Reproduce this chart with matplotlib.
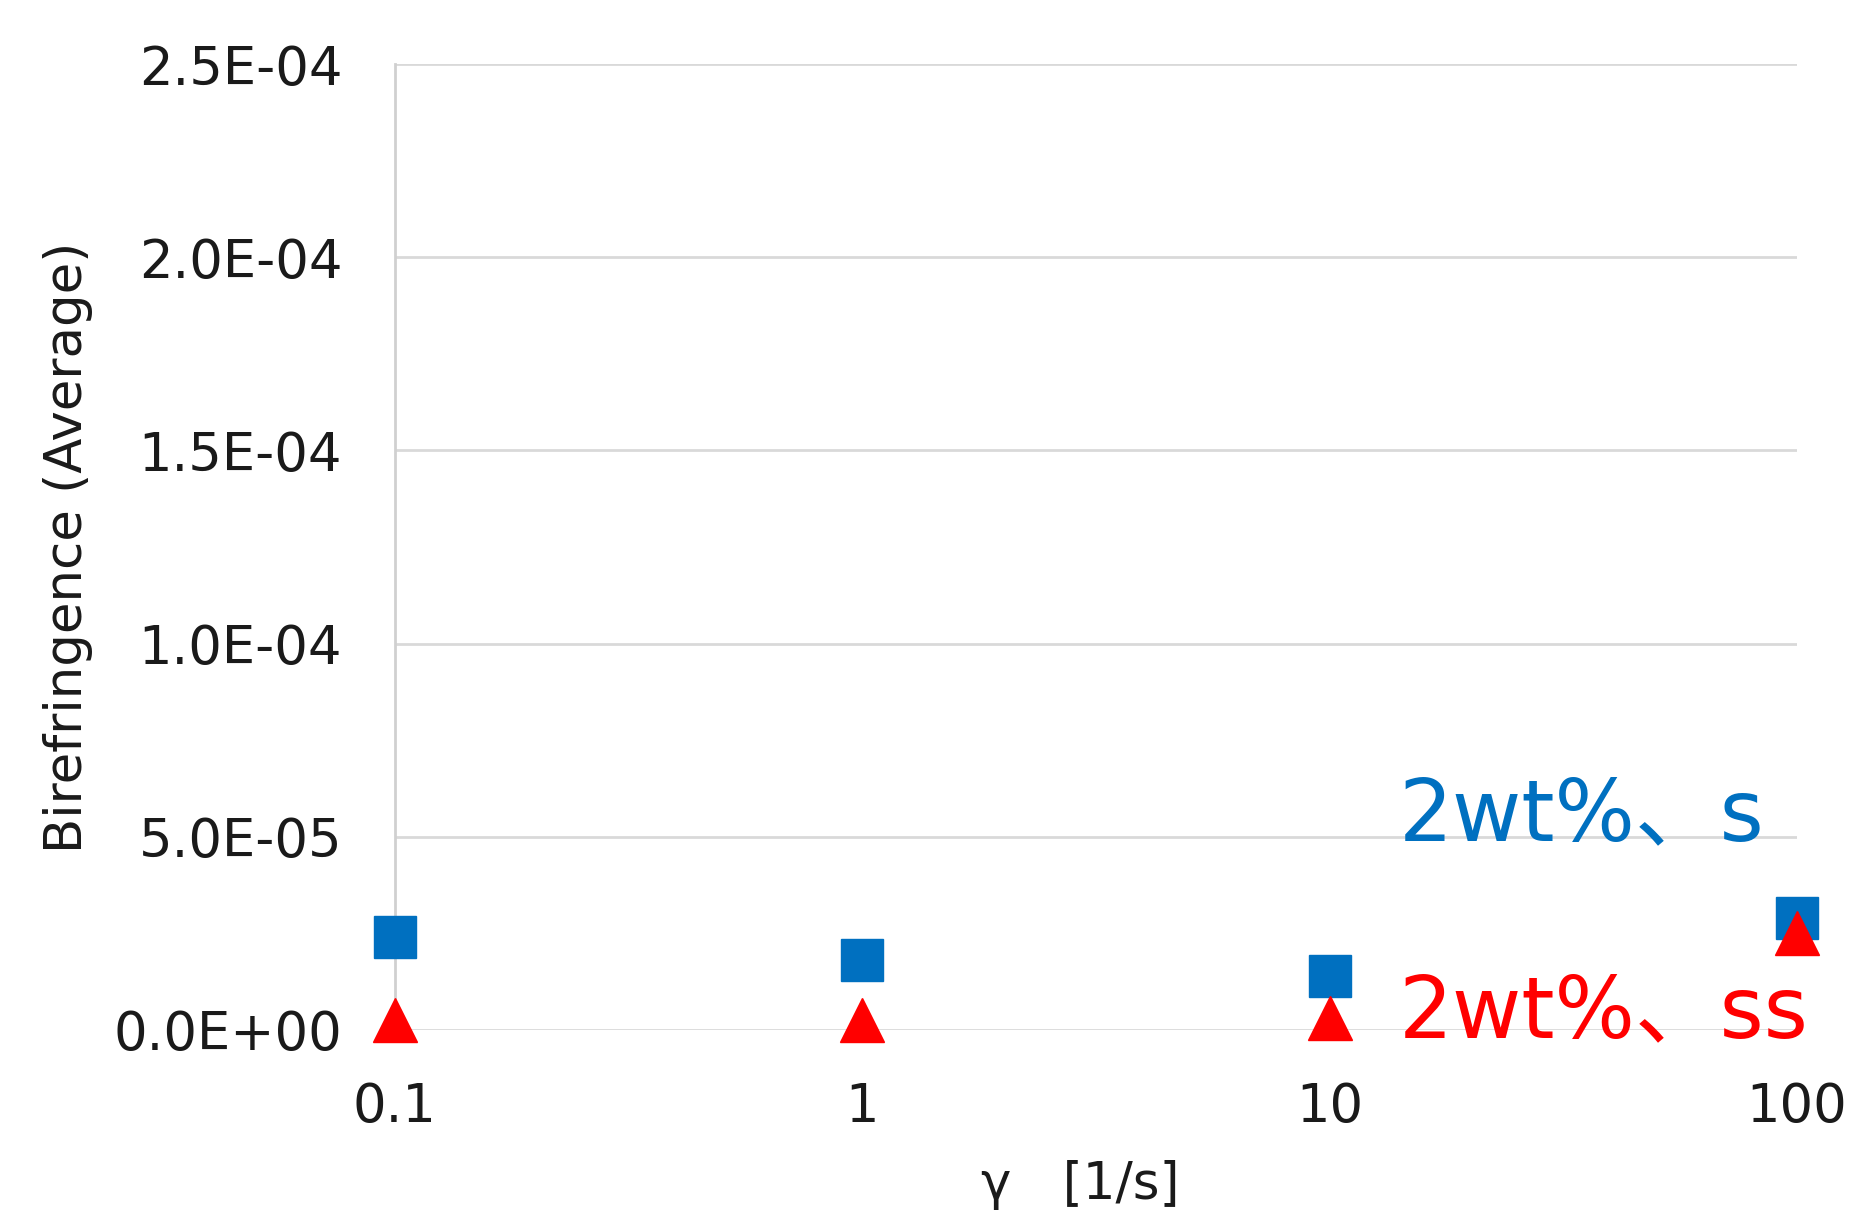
import matplotlib
matplotlib.use("Agg")
import matplotlib.pyplot as plt
from matplotlib.ticker import FixedLocator, NullLocator

plt.rcParams['font.family'] = ['DejaVu Sans', 'Noto Sans CJK JP']

shear_rates = [0.1, 1, 10, 100]
series_s = [2.4e-5, 1.8e-5, 1.4e-5, 2.9e-5]
series_ss = [2.6e-6, 2.6e-6, 3.0e-6, 2.5e-5]
label_s = "2wt%、s"
label_ss = "2wt%、ss"
y_ticks = [0, 5e-5, 1e-4, 1.5e-4, 2e-4, 2.5e-4]
y_tick_labels = ["0.0E+00", "5.0E-05", "1.0E-04", "1.5E-04", "2.0E-04", "2.5E-04"]
x_ticks = [0.1, 1, 10, 100]
x_tick_labels = ["0.1", "1", "10", "100"]

blue = "#0070C0"
red = "#FF0000"

fig = plt.figure(figsize=(18.62, 12.24), dpi=100)
ax = fig.add_axes([0.2121, 0.1585, 0.9651 - 0.2121, 0.9477 - 0.1585])

ax.set_xscale('log')
ax.set_xlim(0.1, 100)
ax.set_ylim(0, 2.5e-4)

ax.xaxis.set_major_locator(FixedLocator(x_ticks))
ax.xaxis.set_minor_locator(NullLocator())
ax.set_xticklabels(x_tick_labels)
ax.set_yticks(y_ticks)
ax.set_yticklabels(y_tick_labels)

ax.grid(axis='y', color='#d9d9d9', linewidth=2)
ax.set_axisbelow(True)
for s in ['top', 'right', 'bottom']:
    ax.spines[s].set_visible(False)
ax.spines['left'].set_color('#d0d0d0')
ax.spines['left'].set_linewidth(2)

ax.tick_params(axis='both', length=0, labelsize=38, colors='#1a1a1a')
ax.tick_params(axis='y', pad=38)
ax.tick_params(axis='x', pad=37)

ax.plot(shear_rates, series_s, linestyle='none', marker='s', markersize=30,
        color=blue, clip_on=False, zorder=3)
ax.plot(shear_rates, series_ss, linestyle='none', marker='^', markersize=31,
        color=red, clip_on=False, zorder=4)

ax.text(0.716, 0.1967, label_s, transform=ax.transAxes, color=blue,
        fontsize=61, va='baseline', ha='left')
ax.text(0.716, -0.0072, label_ss, transform=ax.transAxes, color=red,
        fontsize=61, va='baseline', ha='left')

ax.set_ylabel("Birefringence (Average)", fontsize=37, color='#1a1a1a', labelpad=15)
ax.set_xlabel("γ\u3000[1/s]", fontsize=37, color='#1a1a1a', labelpad=20)
ax.xaxis.set_label_coords(0.489, -0.135)

fig.savefig("out.png", dpi=100)
